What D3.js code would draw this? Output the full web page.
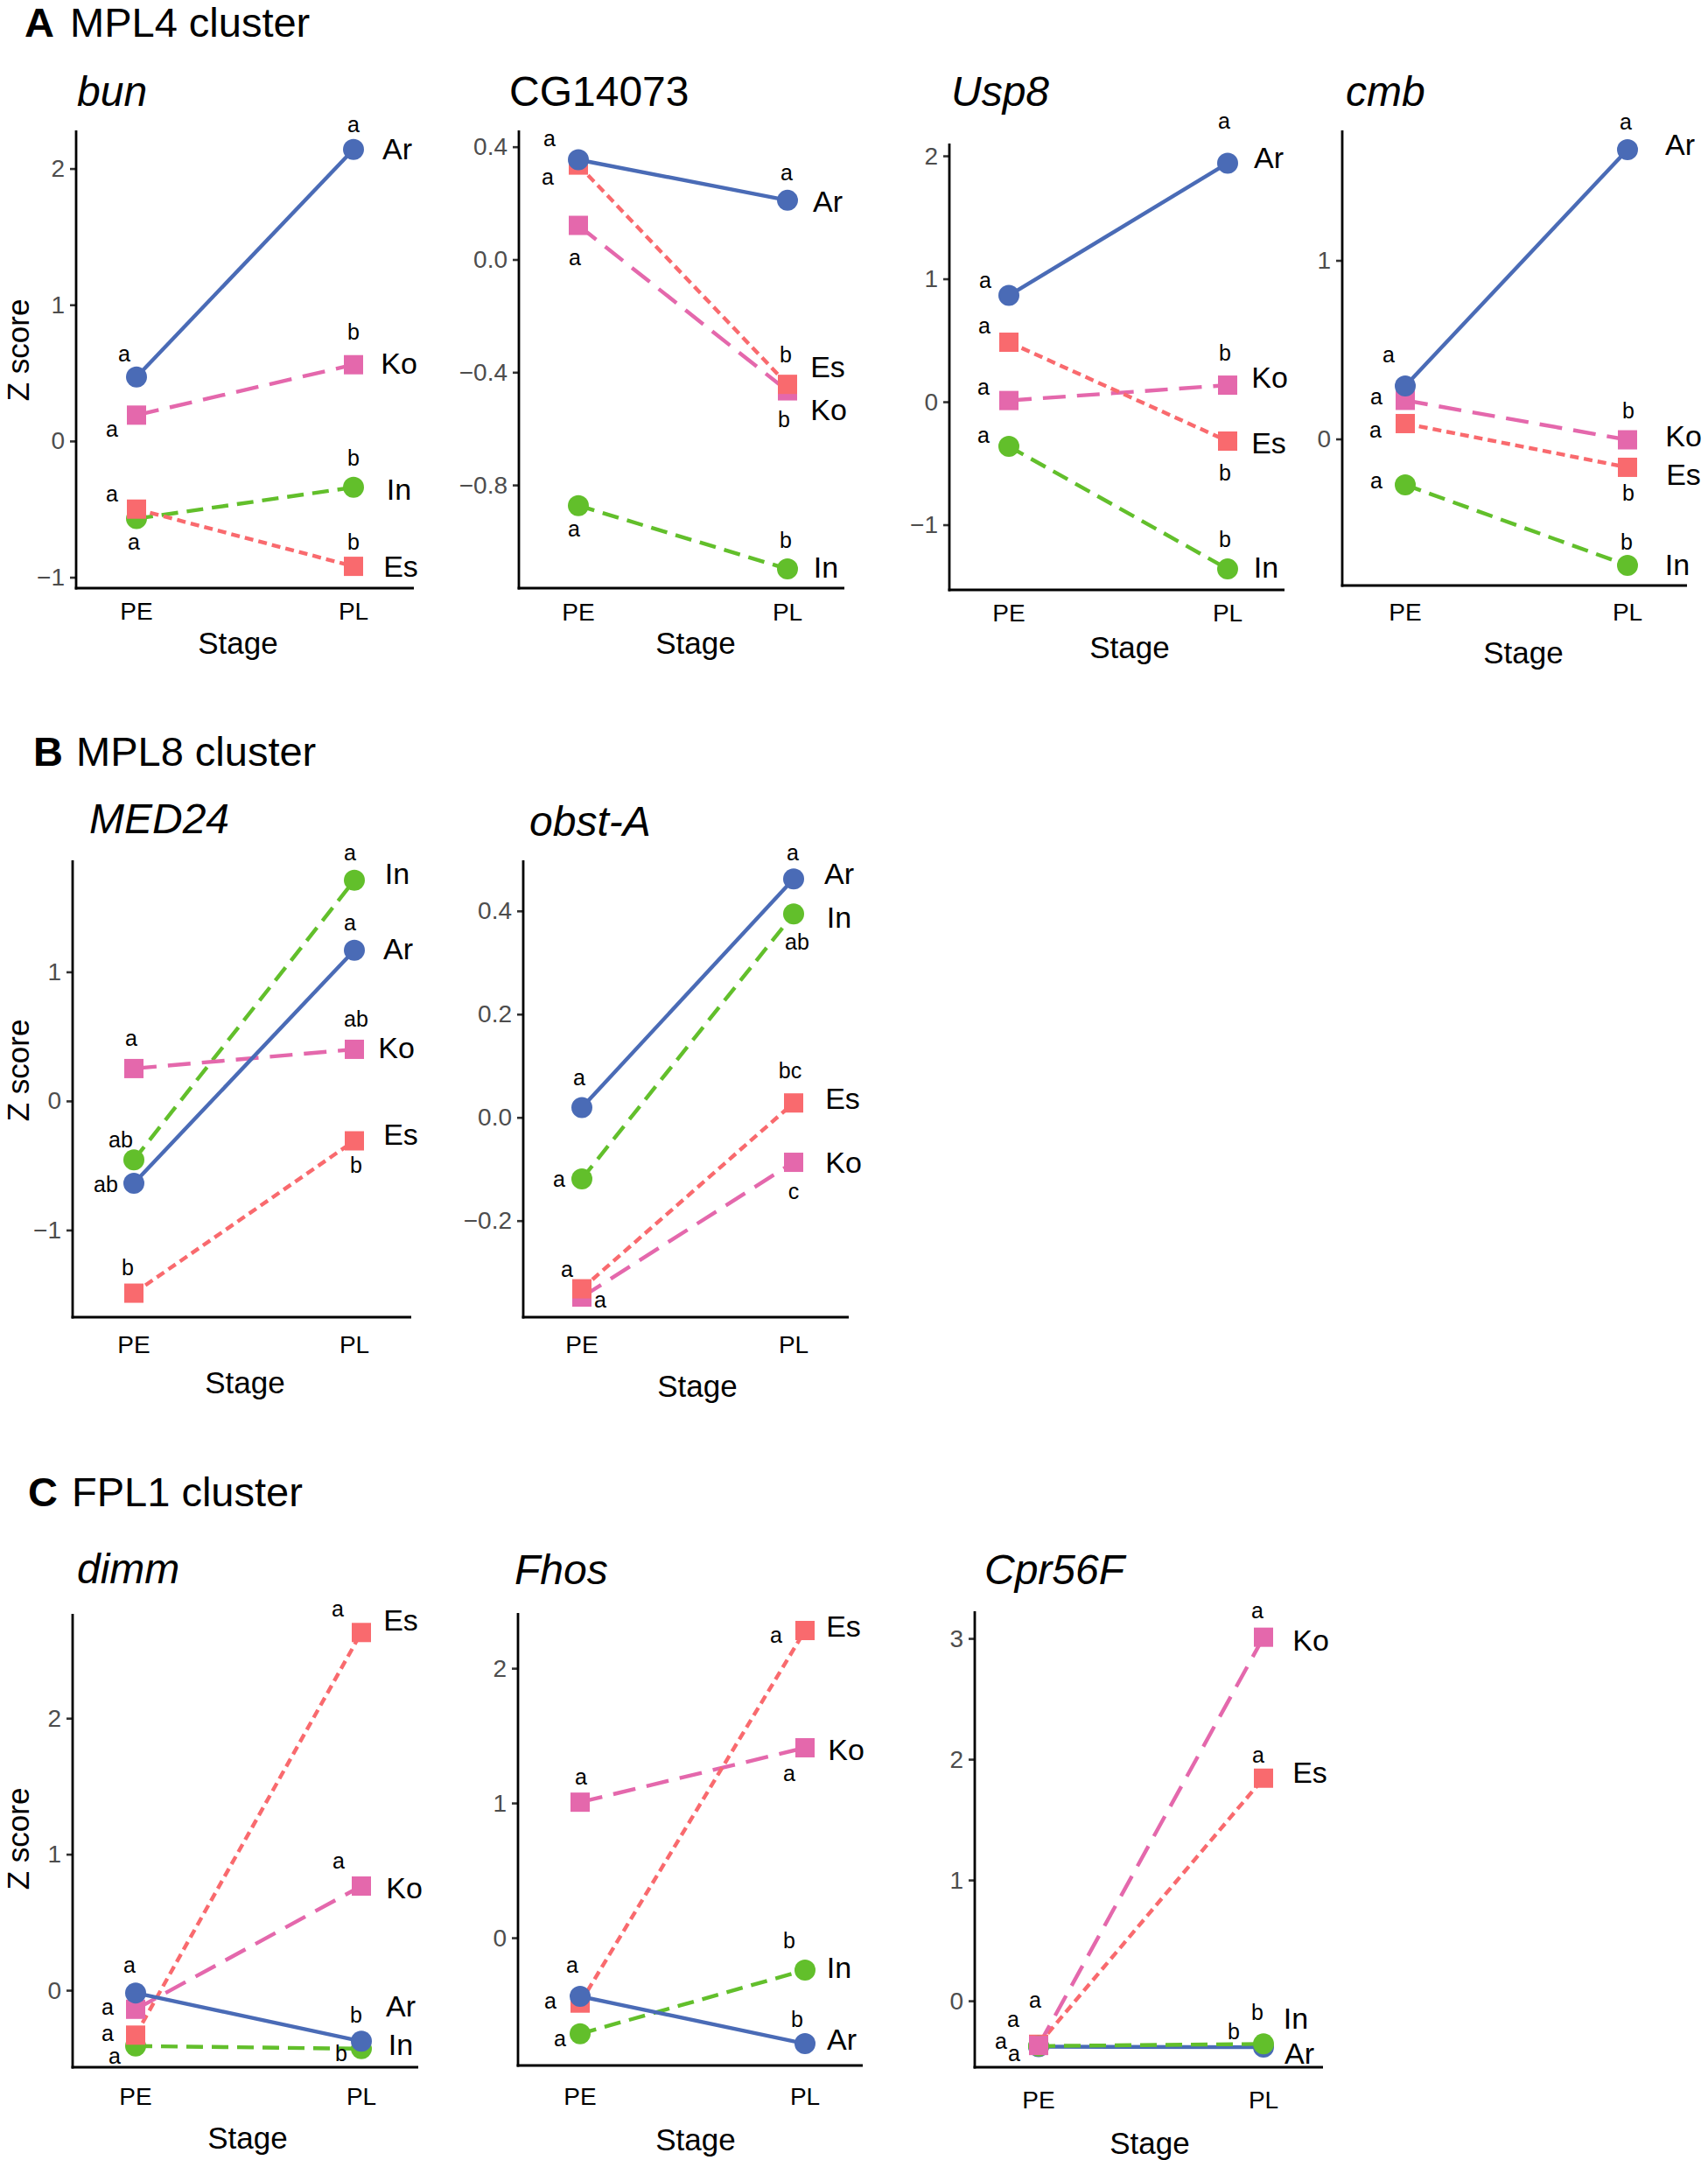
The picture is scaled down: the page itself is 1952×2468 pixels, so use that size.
<!DOCTYPE html>
<html>
<head>
<meta charset="utf-8">
<script src="https://cdn.jsdelivr.net/npm/d3@7"></script>
<style>
  body { margin: 0; background: #fff; }
  text { font-family: "Liberation Sans", Arial, Helvetica, sans-serif; }
</style>
</head>
<body>
<svg id="fig"></svg>
<script>
// ---- data ----
var stages = ["PE", "PL"];
var groups = ["Ar", "In", "Ko", "Es"];

// Z scores: one row per group (Ar, In, Ko, Es), columns = PE, PL
var bunZ = [[0.47, 2.14], [-0.57, -0.34], [0.19, 0.56], [-0.5, -0.92]];
var cg14073Z = [[0.354, 0.21], [-0.873, -1.098], [0.121, -0.466], [0.335, -0.443]];
var usp8Z = [[0.865, 1.94], [-0.363, -1.36], [0.01, 0.135], [0.484, -0.32]];
var cmbZ = [[0.297, 1.62], [-0.257, -0.708], [0.216, -0.005], [0.086, -0.159]];
var med24Z = [[-0.637, 1.168], [-0.457, 1.71], [0.251, 0.4], [-1.489, -0.309]];
var obstAZ = [[0.019, 0.462], [-0.119, 0.394], [-0.348, -0.087], [-0.332, 0.028]];
var dimmZ = [[-0.02, -0.375], [-0.41, -0.43], [-0.14, 0.766], [-0.33, 2.63]];
var fhosZ = [[-0.435, -0.786], [-0.713, -0.24], [1.006, 1.41], [-0.485, 2.28]];
var cpr56FZ = [[-0.38, -0.384], [-0.375, -0.357], [-0.37, 3.01], [-0.36, 1.843]];

// significance letters, same layout
var bunLetters = [["a", "a"], ["a", "b"], ["a", "b"], ["a", "b"]];
var cg14073Letters = [["a", "a"], ["a", "b"], ["a", "b"], ["a", "b"]];
var usp8Letters = [["a", "a"], ["a", "b"], ["a", "b"], ["a", "b"]];
var cmbLetters = [["a", "a"], ["a", "b"], ["a", "b"], ["a", "b"]];
var med24Letters = [["ab", "a"], ["ab", "a"], ["a", "ab"], ["b", "b"]];
var obstALetters = [["a", "a"], ["a", "ab"], ["a", "c"], ["a", "bc"]];
var dimmLetters = [["a", "b"], ["a", "b"], ["a", "a"], ["a", "a"]];
var fhosLetters = [["a", "b"], ["a", "b"], ["a", "a"], ["a", "a"]];
var cpr56FLetters = [["a", "b"], ["a", "b"], ["a", "a"], ["a", "a"]];

// y ticks
var bunTicks = [-1, 0, 1, 2];
var cg14073Ticks = [-0.8, -0.4, 0.0, 0.4];
var usp8Ticks = [-1, 0, 1, 2];
var cmbTicks = [0, 1];
var med24Ticks = [-1, 0, 1];
var obstATicks = [-0.2, 0.0, 0.2, 0.4];
var dimmTicks = [0, 1, 2];
var fhosTicks = [0, 1, 2];
var cpr56FTicks = [0, 1, 2, 3];

var sections = [["A", "MPL4 cluster"], ["B", "MPL8 cluster"], ["C", "FPL1 cluster"]];

// ---- styles ----
var color = d3.scaleOrdinal().domain(groups)
  .range(["#4a6bb6", "#62bf2b", "#e468ac", "#f96a6e"]);
var dash = d3.scaleOrdinal().domain(groups)
  .range(["none", "19,10", "26,13", "10,6"]);
var shape = d3.scaleOrdinal().domain(groups)
  .range(["circle", "circle", "square", "square"]);

var sectionPos = [[28, 80, 42], [38, 87, 875], [32, 82, 1721]];

// panel layouts (pixel boxes, label nudges)
var panels = [
  { gene: "bun", italic: true, z: bunZ, letters: bunLetters, ticks: bunTicks, fmt: "d",
    title: [88, 121], x0: 87, x1: 473, top: 149, bottom: 672, pe: 156, pl: 404,
    domain: [-1.08, 2.28], tickY: 708, stage: [272, 747], zlab: 400,
    letterOff: [[[-14, -26], [0, -28]], [[-3, 27], [0, -33]], [[-28, 17], [0, -37]], [[-28, -17], [0, -27]]],
    labelOff: [[50, -1], [52, 2], [52, -2], [54, 0]] },
  { gene: "CG14073", italic: false, z: cg14073Z, letters: cg14073Letters, ticks: cg14073Ticks, fmt: ".1f",
    title: [582, 121], x0: 593, x1: 965, top: 149, bottom: 672, pe: 661, pl: 900,
    domain: [-1.166, 0.458], tickY: 709, stage: [795, 747],
    letterOff: [[[-33, -23], [-1, -31]], [[-5, 27], [-2, -32]], [[-4, 37], [-4, 33]], [[-35, 14], [-2, -33]]],
    labelOff: [[46, 1], [44, -2], [47, 21], [46, -20]] },
  { gene: "Usp8", italic: true, z: usp8Z, letters: usp8Letters, ticks: usp8Ticks, fmt: "d",
    title: [1087, 121], x0: 1085, x1: 1468, top: 164, bottom: 674, pe: 1153, pl: 1403,
    domain: [-1.53, 2.1], tickY: 710, stage: [1291, 752],
    letterOff: [[[-27, -17], [-4, -47]], [[-29, -12], [-3, -33]], [[-29, -15], [-3, -36]], [[-28, -18], [-3, 37]]],
    labelOff: [[47, -6], [44, -2], [48, -9], [47, 2]] },
  { gene: "cmb", italic: true, z: cmbZ, letters: cmbLetters, ticks: cmbTicks, fmt: "d",
    title: [1538, 121], x0: 1534, x1: 1928, top: 149, bottom: 669, pe: 1606, pl: 1860,
    domain: [-0.821, 1.728], tickY: 709, stage: [1741, 758],
    letterOff: [[[-19, -35], [-2, -31]], [[-33, -4], [-1, -26]], [[-33, -3], [1, -33]], [[-34, 8], [1, 30]]],
    labelOff: [[60, -6], [57, -1], [64, -5], [64, 8]] },
  { gene: "MED24", italic: true, z: med24Z, letters: med24Letters, ticks: med24Ticks, fmt: "d",
    title: [102, 952], x0: 83, x1: 470, top: 983, bottom: 1505, pe: 153, pl: 405,
    domain: [-1.675, 1.864], tickY: 1546, stage: [280, 1592], zlab: 1223,
    letterOff: [[[-32, 2], [-5, -31]], [[-15, -22], [-5, -31]], [[-3, -34], [2, -34]], [[-7, -29], [2, 28]]],
    labelOff: [[50, -2], [49, -8], [48, -2], [53, -8]] },
  { gene: "obst-A", italic: true, z: obstAZ, letters: obstALetters, ticks: obstATicks, fmt: ".1f",
    title: [605, 955], x0: 598, x1: 970, top: 983, bottom: 1505, pe: 665, pl: 907,
    domain: [-0.387, 0.498], tickY: 1546, stage: [797, 1596],
    letterOff: [[[-3, -34], [-1, -29]], [[-26, 1], [4, 33]], [[21, 4], [0, 34]], [[-17, -22], [-4, -36]]],
    labelOff: [[52, -6], [52, 4], [57, 0], [56, -5]] },
  { gene: "dimm", italic: true, z: dimmZ, letters: dimmLetters, ticks: dimmTicks, fmt: "d",
    title: [88, 1809], x0: 83, x1: 478, top: 1844, bottom: 2362, pe: 155, pl: 413,
    domain: [-0.566, 2.767], tickY: 2405, stage: [283, 2455], zlab: 2101,
    letterOff: [[[-7, -31], [-6, -29]], [[-24, 12], [-23, 6]], [[-32, -2], [-26, -28]], [[-32, -1], [-27, -26]]],
    labelOff: [[45, -40], [45, -5], [49, 2], [45, -14]] },
  { gene: "Fhos", italic: true, z: fhosZ, letters: fhosLetters, ticks: fhosTicks, fmt: "d",
    title: [588, 1810], x0: 592, x1: 986, top: 1843, bottom: 2360, pe: 663, pl: 920,
    domain: [-0.948, 2.41], tickY: 2405, stage: [795, 2457],
    letterOff: [[[-9, -35], [-9, -27]], [[-23, 6], [-18, -33]], [[1, -28], [-18, 30]], [[-34, -2], [-33, 6]]],
    labelOff: [[42, -5], [39, -3], [47, 2], [44, -5]] },
  { gene: "Cpr56F", italic: true, z: cpr56FZ, letters: cpr56FLetters, ticks: cpr56FTicks, fmt: "d",
    title: [1125, 1810], x0: 1114, x1: 1512, top: 1841, bottom: 2362, pe: 1187, pl: 1444,
    domain: [-0.55, 3.225], tickY: 2409, stage: [1314, 2461],
    order: ["Ar", "Es", "In", "Ko"],
    letterOff: [[[-43, -6], [-34, -17]], [[-28, 9], [-7, -35]], [[-4, -51], [-7, -30]], [[-29, -28], [-6, -26]]],
    labelOff: [[41, 7], [37, -29], [54, 3], [53, -7]] }
];

var svg = d3.select("#fig").attr("width", 1952).attr("height", 2468);

// section headings
sections.forEach(function(s, i) {
  var t = svg.append("text")
    .attr("x", sectionPos[i][0])
    .attr("y", sectionPos[i][2])
    .attr("font-size", 47)
    .attr("fill", "#000");
  t.append("tspan").attr("font-weight", "bold").text(s[0]);
  t.append("tspan").attr("x", sectionPos[i][1]).text(s[1]);
});

panels.forEach(function(p) {
  var g = svg.append("g").attr("class", "panel");
  var x = d3.scalePoint().domain(stages).range([p.pe, p.pl]);
  var y = d3.scaleLinear().domain(p.domain).range([p.bottom, p.top]);

  // gene title
  g.append("text")
    .attr("x", p.title[0])
    .attr("y", p.title[1])
    .attr("font-size", 48)
    .attr("font-style", p.italic ? "italic" : "normal")
    .text(p.gene);

  // y axis
  var yAxis = g.append("g")
    .attr("transform", "translate(" + p.x0 + ",0)")
    .call(d3.axisLeft(y).tickValues(p.ticks).tickFormat(d3.format(p.fmt)).tickSize(7).tickPadding(6));
  yAxis.select(".domain").remove();
  yAxis.selectAll(".tick line").attr("stroke", "#333").attr("stroke-width", 2.6);
  yAxis.selectAll(".tick text")
    .attr("font-size", 28)
    .attr("fill", "#4d4d4d")
    .attr("font-family", "Liberation Sans, Arial, sans-serif");

  // axis lines
  g.append("line")
    .attr("x1", p.x0).attr("x2", p.x0)
    .attr("y1", p.top).attr("y2", p.bottom + 1.4)
    .attr("stroke", "#000").attr("stroke-width", 2.8);
  g.append("line")
    .attr("x1", p.x0 - 1.4).attr("x2", p.x1)
    .attr("y1", p.bottom).attr("y2", p.bottom)
    .attr("stroke", "#000").attr("stroke-width", 2.8);

  // x tick labels
  g.selectAll(".xlab")
    .data(stages)
    .join("text")
    .attr("class", "xlab")
    .attr("x", function(d) { return x(d); })
    .attr("y", p.tickY)
    .attr("text-anchor", "middle")
    .attr("font-size", 28)
    .text(function(d) { return d; });

  // axis titles
  g.append("text")
    .attr("x", p.stage[0])
    .attr("y", p.stage[1])
    .attr("text-anchor", "middle")
    .attr("font-size", 35)
    .text("Stage");
  if (p.zlab) {
    g.append("text")
      .attr("transform", "translate(33," + p.zlab + ") rotate(-90)")
      .attr("text-anchor", "middle")
      .attr("font-size", 35)
      .text("Z score");
  }

  var order = p.order || ["In", "Ko", "Es", "Ar"];
  var series = order.map(function(key) {
    var i = groups.indexOf(key);
    return { key: key, idx: i, values: p.z[i] };
  });

  var line = d3.line()
    .x(function(d, i) { return x(stages[i]); })
    .y(function(d) { return y(d); });

  // lines
  g.selectAll(".series-line")
    .data(series)
    .join("path")
    .attr("class", "series-line")
    .attr("d", function(d) { return line(d.values); })
    .attr("fill", "none")
    .attr("stroke", function(d) { return color(d.key); })
    .attr("stroke-width", 4.4)
    .attr("stroke-dasharray", function(d) { return dash(d.key); });

  // points
  series.forEach(function(s) {
    var pts = s.values.map(function(v, i) { return { stage: stages[i], v: v }; });
    if (shape(s.key) === "circle") {
      g.selectAll(null)
        .data(pts)
        .join("circle")
        .attr("cx", function(d) { return x(d.stage); })
        .attr("cy", function(d) { return y(d.v); })
        .attr("r", 12)
        .attr("fill", color(s.key));
    } else {
      g.selectAll(null)
        .data(pts)
        .join("rect")
        .attr("x", function(d) { return x(d.stage) - 11; })
        .attr("y", function(d) { return y(d.v) - 11; })
        .attr("width", 22)
        .attr("height", 22)
        .attr("fill", color(s.key));
    }
  });

  // significance letters
  groups.forEach(function(key, i) {
    stages.forEach(function(st, j) {
      var off = p.letterOff[i][j];
      g.append("text")
        .attr("x", x(st) + off[0])
        .attr("y", y(p.z[i][j]) + off[1] + 8)
        .attr("text-anchor", "middle")
        .attr("font-size", 25)
        .text(p.letters[i][j]);
    });
  });

  // group labels at the right end
  groups.forEach(function(key, i) {
    var off = p.labelOff[i];
    g.append("text")
      .attr("x", x("PL") + off[0])
      .attr("y", y(p.z[i][1]) + off[1] + 12)
      .attr("text-anchor", "middle")
      .attr("font-size", 34)
      .text(key);
  });
});
</script>
</body>
</html>
